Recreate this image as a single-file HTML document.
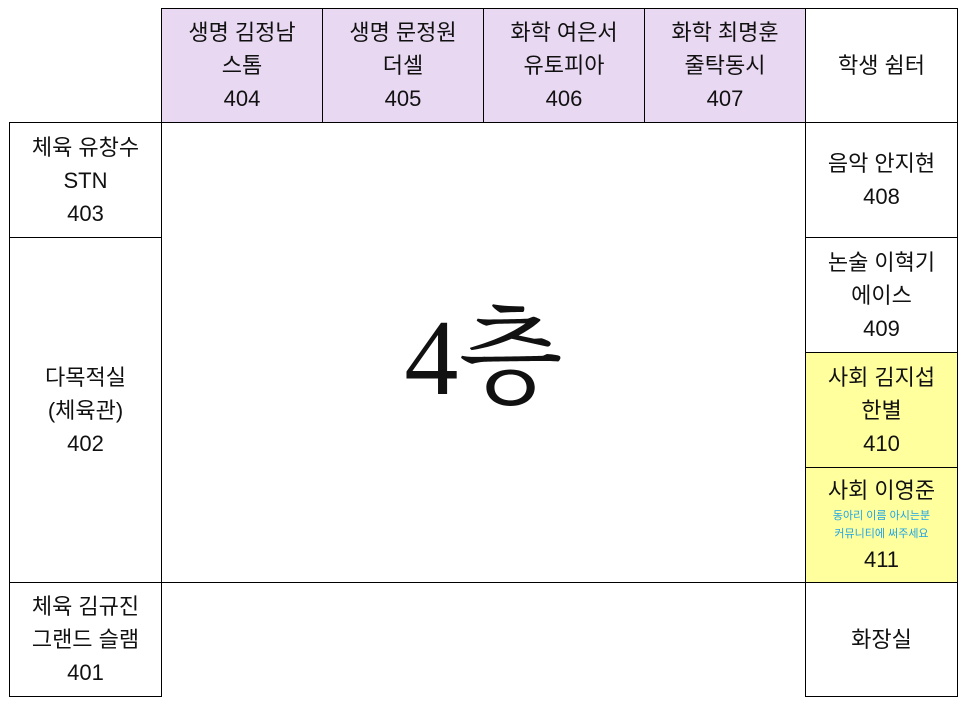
<!DOCTYPE html>
<html><head><meta charset="utf-8">
<style>
html,body{margin:0;padding:0;background:#fff;}
body{width:964px;height:703px;position:relative;overflow:hidden;font-family:"Liberation Sans","Noto Sans CJK KR","NanumGothic",sans-serif;color:#111;}
.c{position:absolute;box-sizing:border-box;border:1px solid #000;display:flex;flex-direction:column;align-items:center;justify-content:center;text-align:center;font-size:22px;line-height:33px;}
.p{background:#e9d8f2;}
.y{background:#ffff9e;}
.s{font-size:11px;line-height:18px;color:#1ea4e6;}
</style></head><body>
<div class="c p" style="left:161px;top:8px;width:162px;height:115px;"><div>생명 김정남</div><div>스톰</div><div>404</div></div>
<div class="c p" style="left:322px;top:8px;width:162px;height:115px;"><div>생명 문정원</div><div>더셀</div><div>405</div></div>
<div class="c p" style="left:483px;top:8px;width:162px;height:115px;"><div>화학 여은서</div><div>유토피아</div><div>406</div></div>
<div class="c p" style="left:644px;top:8px;width:162px;height:115px;"><div>화학 최명훈</div><div>줄탁동시</div><div>407</div></div>
<div class="c" style="left:805px;top:8px;width:153px;height:115px;"><div>학생 쉼터</div></div>

<div class="c" style="left:9px;top:122px;width:153px;height:116px;"><div>체육 유창수</div><div>STN</div><div>403</div></div>
<div class="c" style="left:9px;top:237px;width:153px;height:346px;"><div>다목적실</div><div>(체육관)</div><div>402</div></div>
<div class="c" style="left:9px;top:582px;width:153px;height:115px;"><div>체육 김규진</div><div>그랜드 슬램</div><div>401</div></div>

<div class="c" style="left:161px;top:122px;width:645px;height:461px;"><div style="font-family:'Liberation Serif','Noto Serif CJK SC','Noto Sans CJK KR',serif;font-size:108px;line-height:120px;margin-top:12px;">4층</div></div>

<div class="c" style="left:805px;top:122px;width:153px;height:116px;"><div>음악 안지현</div><div>408</div></div>
<div class="c" style="left:805px;top:237px;width:153px;height:116px;"><div>논술 이혁기</div><div>에이스</div><div>409</div></div>
<div class="c y" style="left:805px;top:352px;width:153px;height:116px;"><div>사회 김지섭</div><div>한별</div><div>410</div></div>
<div class="c y" style="left:805px;top:467px;width:153px;height:116px;"><div>사회 이영준</div><div class="s">동아리 이름 아시는분</div><div class="s">커뮤니티에 써주세요</div><div>411</div></div>
<div class="c" style="left:805px;top:582px;width:153px;height:115px;"><div>화장실</div></div>
</body></html>
